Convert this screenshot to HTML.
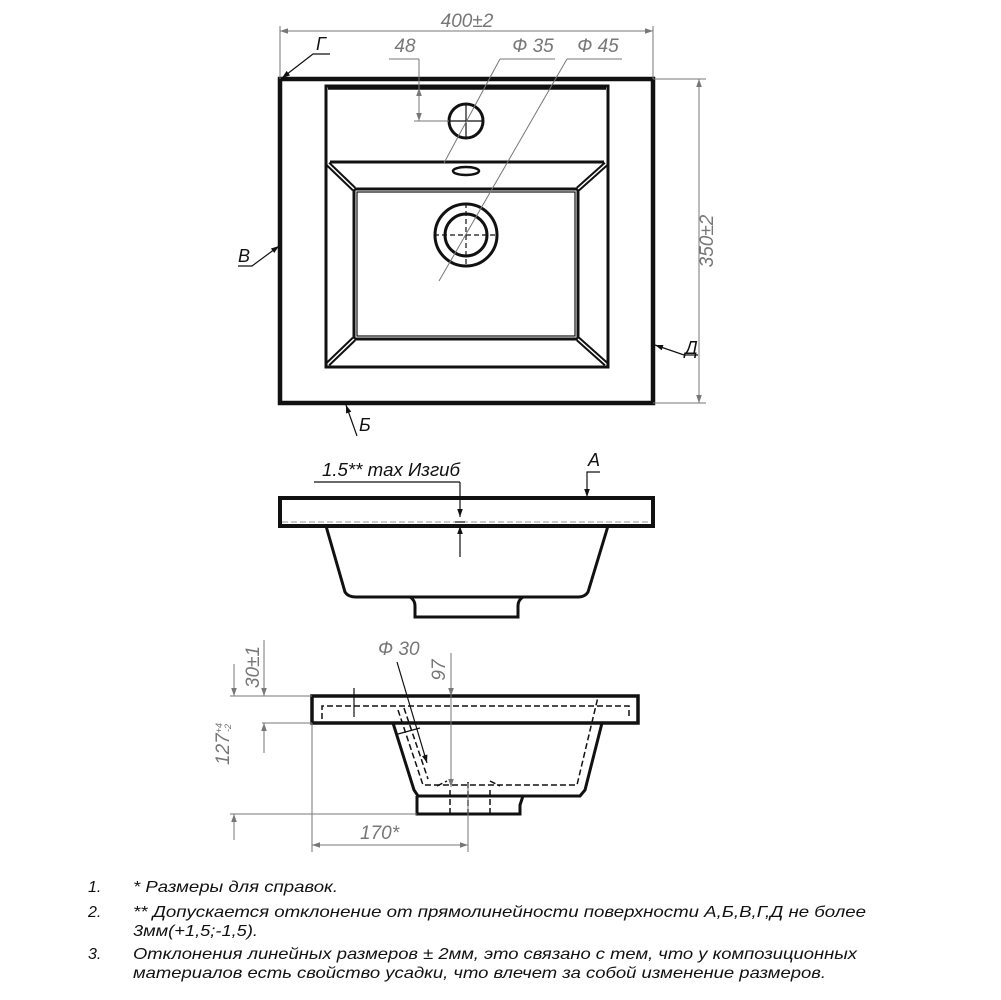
<!DOCTYPE html>
<html><head><meta charset="utf-8"><style>
html,body{margin:0;padding:0;background:#fff}
svg{display:block}
.t{font-family:"Liberation Sans",sans-serif;font-style:italic;fill:#111}
.d{font-family:"Liberation Sans",sans-serif;font-style:italic;fill:#777;font-size:19px}
</style></head><body>
<svg width="1001" height="1000" viewBox="0 0 1001 1000" xmlns="http://www.w3.org/2000/svg">
<defs>
<marker id="a" viewBox="0 0 10 10" refX="10" refY="5" markerWidth="10" markerHeight="8" orient="auto-start-reverse" markerUnits="userSpaceOnUse"><path d="M0,1.5 L10,5 L0,8.5 z" fill="#777"/></marker>
<marker id="k" viewBox="0 0 10 10" refX="10" refY="5" markerWidth="10" markerHeight="8" orient="auto-start-reverse" markerUnits="userSpaceOnUse"><path d="M0,1.5 L10,5 L0,8.5 z" fill="#111"/></marker>
</defs>
<!-- TOP VIEW -->
<g fill="none" stroke="#111">
<rect x="280" y="79" width="373" height="324" stroke-width="4.5"/>
<path d="M326,367 V86 H608 V367 Z" stroke-width="3"/>
<line x1="328" y1="88" x2="606" y2="88" stroke-width="3.5"/>
<line x1="330" y1="162" x2="604" y2="162" stroke-width="3"/>
<rect x="354" y="189" width="224" height="150" stroke-width="3"/>
<rect x="357" y="192" width="218" height="144" stroke-width="1.2"/>
<path d="M328,164 L354,189 M606,164 L578,189 M328,364 L354,339 M606,364 L578,339" stroke-width="5.5"/>
<path d="M328,164 L354,189 M606,164 L578,189 M328,364 L354,339 M606,364 L578,339" stroke="#fff" stroke-width="1.5"/>
<ellipse cx="466" cy="171" rx="13" ry="4" stroke-width="2.5"/>
<circle cx="466" cy="121" r="17" stroke-width="3"/>
<path d="M449,121 H483 M466,104 V138" stroke-width="1.2"/>
<circle cx="466" cy="235" r="31" stroke-width="3"/>
<circle cx="466" cy="235" r="21" stroke-width="3"/>
<path d="M434,235 H498 M466,203 V267" stroke-width="1.2" stroke-dasharray="5 3"/>
</g>
<!-- top view dims -->
<g stroke="#777" stroke-width="1" fill="none">
<line x1="280" y1="79" x2="280" y2="26"/>
<line x1="653" y1="79" x2="653" y2="26"/>
<line x1="280" y1="31" x2="653" y2="31" marker-start="url(#a)" marker-end="url(#a)"/>
<line x1="653" y1="79" x2="706" y2="79"/>
<line x1="653" y1="403" x2="706" y2="403"/>
<line x1="699" y1="79" x2="699" y2="403" marker-start="url(#a)" marker-end="url(#a)"/>
<line x1="389" y1="59" x2="419" y2="59"/>
<line x1="419" y1="59" x2="419" y2="88"/>
<line x1="419" y1="88" x2="419" y2="121" marker-start="url(#a)" marker-end="url(#a)"/>
<line x1="414" y1="121" x2="449" y2="121"/>
<line x1="500" y1="59" x2="555" y2="59"/>
<line x1="500" y1="59" x2="444" y2="163"/>
<line x1="567" y1="59" x2="622" y2="59"/>
<line x1="567" y1="59" x2="439" y2="281"/>
</g>
<text class="d" x="467" y="27" text-anchor="middle">400±2</text>
<text class="d" x="405" y="52" text-anchor="middle">48</text>
<text class="d" x="533" y="52" text-anchor="middle">Ф 35</text>
<text class="d" x="598" y="52" text-anchor="middle">Ф 45</text>
<text class="d" transform="translate(713,241) rotate(-90)" text-anchor="middle">350±2</text>
<!-- surface leaders -->
<g stroke="#111" stroke-width="1.2" fill="none">
<path d="M330,54 H313 L282,78" marker-end="url(#k)"/>
<path d="M238,266 H252 L279,246" marker-end="url(#k)"/>
<path d="M698,355 H684 L655,345" marker-end="url(#k)"/>
<path d="M357,436 L346,405" marker-end="url(#k)"/>
<path d="M600,472 H587 V497" marker-end="url(#k)"/>
</g>
<g class="t" font-size="18">
<text x="316" y="50">Г</text>
<text x="238" y="262">В</text>
<text x="685" y="354">Д</text>
<text x="359" y="431">Б</text>
<text x="588" y="466">А</text>
</g>
<!-- FRONT VIEW -->
<g fill="none" stroke="#111">
<rect x="280" y="498" width="373" height="28" stroke-width="4"/>
<path d="M326,526 L345,592 Q348,597 356,597 H578 Q585,597 588,592 L608,526" stroke-width="3"/>
<path d="M410,597 Q415,600 415,606 V617 H518 V606 Q518,600 523,597" stroke-width="3"/>
</g>
<line x1="282" y1="522" x2="651" y2="522" stroke="#999" stroke-width="1" stroke-dasharray="6 3"/>
<g stroke="#111" stroke-width="1.2" fill="none">
<line x1="314" y1="482" x2="460" y2="482"/>
<line x1="460" y1="482" x2="460" y2="517" marker-end="url(#k)"/>
<line x1="460" y1="557" x2="460" y2="526" marker-end="url(#k)"/>
<line x1="455" y1="522" x2="465" y2="522"/>
</g>
<text class="t" x="322" y="476" font-size="18" textLength="138" lengthAdjust="spacingAndGlyphs">1.5** max Изгиб</text>
<!-- SIDE VIEW -->
<g fill="none" stroke="#111">
<rect x="312" y="696" width="326" height="27" stroke-width="3.5"/>
<path d="M393,723 L414,790 L418,796 H580 L585,790 L602,723" stroke-width="3"/>
<path d="M417,796 V814 H520 V805 L523,796" stroke-width="3"/>
</g>
<g fill="none" stroke="#111" stroke-width="1.5" stroke-dasharray="6 3">
<path d="M322,719 V706 H629 V719"/>
<path d="M398,710 L423,785 H577 L598,697"/>
<path d="M404,708 L428,779 M450,790 V814 M490,790 V814 M468,782 V814 M437,786 L447,781 M490,781 L500,786"/>
</g>
<g stroke="#111" stroke-width="1.2" fill="none">
<line x1="354" y1="688" x2="354" y2="717"/>
<line x1="397" y1="662" x2="427" y2="763" marker-end="url(#k)"/>
<line x1="398" y1="734" x2="420" y2="728"/>
</g>
<g stroke="#777" stroke-width="1" fill="none">
<line x1="230" y1="696" x2="312" y2="696"/>
<line x1="262" y1="723" x2="312" y2="723"/>
<line x1="230" y1="814" x2="417" y2="814"/>
<line x1="264" y1="640" x2="264" y2="696" marker-end="url(#a)"/>
<line x1="264" y1="753" x2="264" y2="723" marker-end="url(#a)"/>
<line x1="234" y1="664" x2="234" y2="696" marker-end="url(#a)"/>
<line x1="234" y1="840" x2="234" y2="814" marker-end="url(#a)"/>
<line x1="312" y1="723" x2="312" y2="852"/>
<line x1="468" y1="783" x2="468" y2="852"/>
<line x1="312" y1="845" x2="468" y2="845" marker-start="url(#a)" marker-end="url(#a)"/>
<line x1="451" y1="653" x2="451" y2="696" marker-end="url(#a)"/>
<line x1="451" y1="696" x2="451" y2="787" marker-end="url(#a)"/>
</g>
<text class="d" transform="translate(259,667) rotate(-90)" text-anchor="middle">30±1</text>
<text class="d" transform="translate(229,744) rotate(-90)" text-anchor="middle">127<tspan font-size="9" dy="-7">+4</tspan><tspan font-size="9" dx="-9" dy="9">-2</tspan></text>
<text class="d" transform="translate(445,670) rotate(-90)" text-anchor="middle">97</text>
<text class="d" x="378" y="655">Ф 30</text>
<text class="d" x="360" y="839">170*</text>
<!-- NOTES -->
<g class="t" font-size="16">
<text x="88" y="892">1.</text>
<text x="133" y="892" textLength="205" lengthAdjust="spacingAndGlyphs">* Размеры для справок.</text>
<text x="88" y="917">2.</text>
<text x="133" y="917" textLength="733" lengthAdjust="spacingAndGlyphs">** Допускается отклонение от прямолинейности поверхности А,Б,В,Г,Д не более</text>
<text x="133" y="936" textLength="125" lengthAdjust="spacingAndGlyphs">3мм(+1,5;-1,5).</text>
<text x="88" y="959">3.</text>
<text x="133" y="959" textLength="724" lengthAdjust="spacingAndGlyphs">Отклонения линейных размеров ± 2мм, это связано с тем, что у композиционных</text>
<text x="133" y="978" textLength="693" lengthAdjust="spacingAndGlyphs">материалов есть свойство усадки, что влечет за собой изменение размеров.</text>
</g>
</svg>
</body></html>
